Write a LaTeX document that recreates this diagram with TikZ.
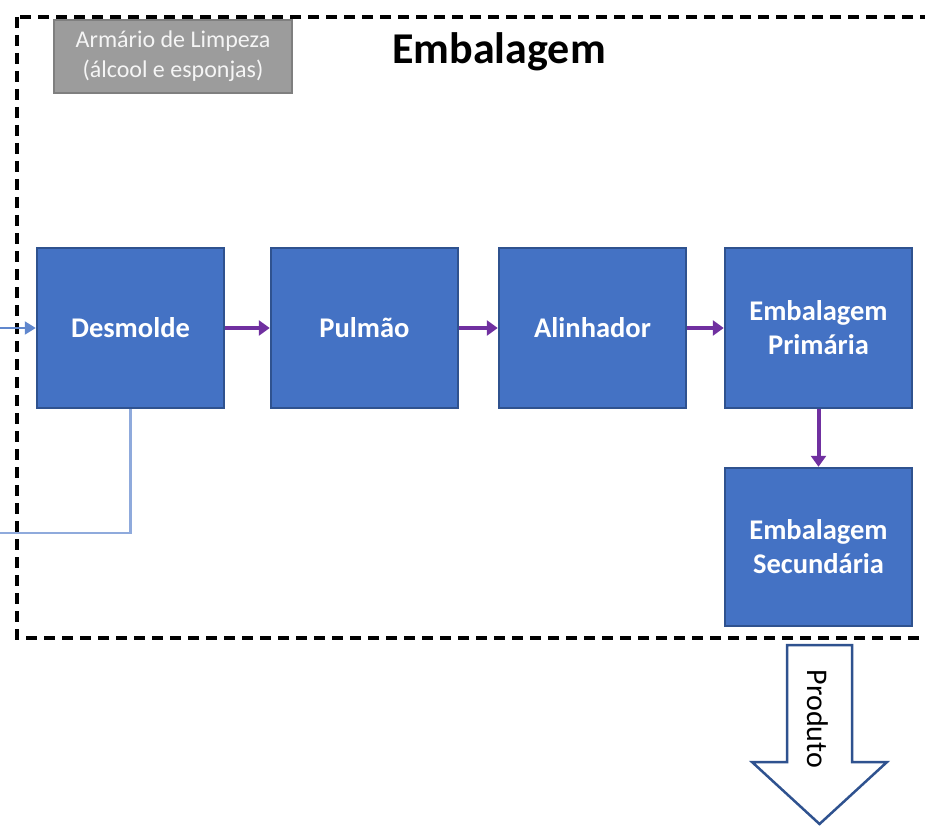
\documentclass[tikz,border=0pt]{standalone}
\usepackage{fontspec}
\setmainfont{Carlito}
\usetikzlibrary{arrows.meta}
\definecolor{boxblue}{HTML}{4472C4}
\definecolor{boxedge}{HTML}{2F528F}
\definecolor{flow}{HTML}{7030A0}
\definecolor{feed}{HTML}{8FAADC}
\definecolor{cabinet}{HTML}{9C9C9C}
\definecolor{cabinetedge}{HTML}{7F7F7F}
\begin{document}
\begin{tikzpicture}[x=1pt,y=-1pt,
  stage/.style={draw=boxedge,line width=2.5pt,fill=boxblue,text=white,
    minimum width=187pt,minimum height=160pt,align=center,
    font=\fontsize{28.5}{34}\selectfont\bfseries,inner sep=0pt},
  flowarrow/.style={draw=flow,line width=4pt,-{Triangle[length=11pt,width=15pt]}},
  feedline/.style={draw=feed,line width=2.2pt}]
\useasboundingbox (0,0) rectangle (925,826);
\clip (0,0) rectangle (925,826);

% area boundary
\draw[line width=3.5pt,dash pattern=on 11pt off 7pt] (17,17) rectangle (960,638);

% cleaning cabinet
\node[draw=cabinetedge,line width=2.5pt,fill=cabinet,text=white!96!black,
  minimum width=238pt,minimum height=73pt,align=center,inner sep=0pt,
  font=\fontsize{24}{30}\selectfont] (cab) at (173,56.5)
  {Armário de Limpeza\\(álcool e esponjas)};

\node[font=\fontsize{44}{52}\selectfont\bfseries] (title) at (499,52) {Embalagem};

% process stages
\node[stage] (desm) at (130.5,328) {Desmolde};
\node[stage] (pulm) at (364.5,328) {Pulmão};
\node[stage] (alin) at (592.5,328) {Alinhador};
\node[stage] (prim) at (818.5,328) {Embalagem\\Primária};
\node[stage,minimum height=158pt] (sec) at (818.5,547) {Embalagem\\Secundária};

\draw[flowarrow] (desm) -- (pulm);
\draw[flowarrow] (pulm) -- (alin);
\draw[flowarrow] (alin) -- (prim);
\draw[flowarrow] (prim) -- (sec);

% incoming and return lines
\coordinate (in) at (0,328);
\coordinate (ret) at (0,533);
\draw[feedline,-{Triangle[length=11pt,width=13pt]},draw=boxblue!85!white] (in) -- (desm.west);
\draw[feedline] (desm.south) |- (ret);

% product outlet
\draw[draw=boxedge,line width=2.5pt,fill=white,line join=miter]
  (787,645) -- (852,645) -- (852,762) -- (887,762) -- (819.5,824)
  -- (752,762) -- (787,762) -- cycle;
\node[rotate=-90,font=\fontsize{30}{36}\selectfont] (prod) at (818,719) {Produto};
\end{tikzpicture}
\end{document}
